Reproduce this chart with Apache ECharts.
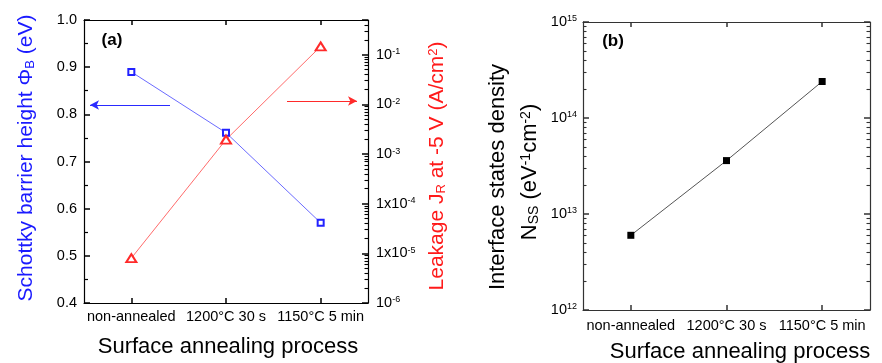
<!DOCTYPE html>
<html>
<head>
<meta charset="utf-8">
<script src="https://cdn.jsdelivr.net/npm/echarts@6/dist/echarts.min.js"></script>
<style>
    html, body { margin: 0; padding: 0; background: #fff; }
    #chart { width: 882px; height: 363px; }
</style>
</head>
<body>
<div id="chart"></div>
<script>
//横轴类别
var categories = ["non-annealed", "1200°C 30 s", "1150°C 5 min"];
//(a) 肖特基势垒高度 (eV)
var barrierHeight = [0.89, 0.761, 0.57];
//(a) 漏电流 (A/cm2)
var leakage = [8.0e-6, 1.95e-3, 0.147];
//(b) 界面态密度
var nss = [6.0e12, 3.6e13, 2.4e14];
//对数轴刻度标签：指数与前缀
var leakExp = [-6, -5, -4, -3, -2, -1];
var leakPrefix = ["", "1x", "1x", "", "", ""];
var nssExp = [12, 13, 14, 15];

var font = "Liberation Sans, Arial, sans-serif";

//对数轴次刻度 (2~9 x 10^n)
function minorValues(exps, max) {
    var out = [];
    for (var i = 0; i < exps.length; i++) {
        for (var m = 2; m <= 9; m++) {
            var v = m * Math.pow(10, exps[i]);
            if (v <= max * 1.0001) out.push(v);
        }
    }
    return out;
}

function logLabel(exps, prefixes) {
    return function(v) {
        var e = Math.log(v) / Math.LN10;
        var r = Math.round(e);
        if (Math.abs(e - r) > 0.01) return "";
        var i = exps.indexOf(r);
        if (i < 0) return "";
        var p = prefixes ? prefixes[i] : "";
        return p + "10{sup|" + r + "}";
    };
}

var supRich = {
    sup: { fontSize: 9, verticalAlign: "top", fontFamily: font, color: "#000", padding: [0, 0, 6, 0] }
};

var myChart = echarts.init(document.getElementById("chart"), null, { renderer: "canvas" });

function catAxis(grid, pos, showLabel, margin, c) {
    return {
        type: "category",
        gridIndex: grid,
        position: pos,
        data: categories,
        boundaryGap: true,
        axisLine: { show: true, lineStyle: { color: c, width: 1.2 } },
        axisTick: { show: true, inside: true, alignWithLabel: true, interval: 0, length: 5, lineStyle: { color: c, width: 1.5 } },
        axisLabel: { show: showLabel, interval: 0, hideOverlap: false, color: "#000", fontSize: 14.5, fontFamily: font, margin: margin },
        splitLine: { show: false }
    };
}

//只画次刻度的叠加对数轴
function minorLogAxis(grid, pos, min, max, exps, c) {
    return {
        type: "log",
        logBase: 10,
        gridIndex: grid,
        position: pos,
        min: min,
        max: max,
        axisLine: { show: false },
        axisTick: { show: true, inside: true, length: 3.5, customValues: minorValues(exps, max), lineStyle: { color: c, width: 1.1 } },
        axisLabel: { show: false },
        splitLine: { show: false }
    };
}

var option = {
    animation: false,
    backgroundColor: "#fff",
    grid: [
        { left: 84, top: 20, width: 284, height: 283 },
        { left: 583, top: 22, width: 287, height: 288 }
    ],
    xAxis: [
        catAxis(0, "bottom", true, 6, "#000"),
        catAxis(0, "top", false, 6, "#000"),
        catAxis(1, "bottom", true, 8, "#333"),
        catAxis(1, "top", false, 8, "#333")
    ],
    yAxis: [
        {
            type: "value",
            gridIndex: 0,
            position: "left",
            min: 0.4,
            max: 1.0,
            interval: 0.1,
            axisLine: { show: true, lineStyle: { color: "#000", width: 1.2 } },
            axisTick: { show: true, inside: true, length: 6, lineStyle: { color: "#000", width: 1.5 } },
            minorTick: { show: true, splitNumber: 2, length: 4, lineStyle: { color: "#000", width: 1.2 } },
            axisLabel: {
                color: "#000", fontSize: 14.5, fontFamily: font, margin: 7,
                formatter: function(v) { return v.toFixed(1); }
            },
            splitLine: { show: false }
        },
        {
            type: "log",
            logBase: 10,
            gridIndex: 0,
            position: "right",
            min: 1e-6,
            max: 0.5,
            axisLine: { show: true, lineStyle: { color: "#000", width: 1.2 } },
            axisTick: { show: true, inside: true, length: 6, lineStyle: { color: "#000", width: 1.5 } },
            axisLabel: {
                color: "#000", fontSize: 14.5, fontFamily: font, margin: 8,
                formatter: logLabel(leakExp, leakPrefix),
                rich: supRich
            },
            splitLine: { show: false }
        },
        {
            type: "log",
            logBase: 10,
            gridIndex: 1,
            position: "left",
            min: 1e12,
            max: 1e15,
            axisLine: { show: true, lineStyle: { color: "#333", width: 1.2 } },
            axisTick: { show: true, inside: true, length: 6, lineStyle: { color: "#333", width: 1.5 } },
            axisLabel: {
                color: "#000", fontSize: 14.5, fontFamily: font, margin: 6,
                formatter: logLabel(nssExp, null),
                rich: supRich
            },
            splitLine: { show: false }
        },
        {
            type: "log",
            logBase: 10,
            gridIndex: 1,
            position: "right",
            min: 1e12,
            max: 1e15,
            axisLine: { show: true, lineStyle: { color: "#333", width: 1.2 } },
            axisTick: { show: true, inside: true, length: 6, lineStyle: { color: "#333", width: 1.5 } },
            axisLabel: { show: false },
            splitLine: { show: false }
        },
        minorLogAxis(0, "right", 1e-6, 0.5, leakExp, "#000"),
        minorLogAxis(1, "left", 1e12, 1e15, nssExp, "#333"),
        minorLogAxis(1, "right", 1e12, 1e15, nssExp, "#333")
    ],
    series: [
        {
            name: "Barrier height",
            type: "line",
            xAxisIndex: 0,
            yAxisIndex: 0,
            data: barrierHeight,
            symbol: "emptyRect",
            symbolSize: 6,
            itemStyle: { color: "#2222ff", borderWidth: 1 },
            lineStyle: { color: "#6b6bff", width: 1 },
            markLine: {
                silent: true,
                symbol: ["none", "arrow"],
                symbolSize: [7, 9],
                label: { show: false },
                lineStyle: { color: "#2a2aff", width: 1, type: "solid" },
                data: [[{ x: 170, y: 105 }, { x: 90, y: 105 }]]
            }
        },
        {
            name: "Leakage",
            type: "line",
            xAxisIndex: 0,
            yAxisIndex: 1,
            data: leakage,
            symbol: "emptyTriangle",
            symbolSize: [10, 8],
            itemStyle: { color: "#ff2a2a", borderWidth: 1 },
            lineStyle: { color: "#ff6b6b", width: 1 },
            markLine: {
                silent: true,
                symbol: ["none", "arrow"],
                symbolSize: [7, 9],
                label: { show: false },
                lineStyle: { color: "#ff2a2a", width: 1, type: "solid" },
                data: [[{ x: 287, y: 101 }, { x: 357, y: 101 }]]
            }
        },
        {
            name: "Nss",
            type: "line",
            xAxisIndex: 2,
            yAxisIndex: 2,
            data: nss,
            symbol: "rect",
            symbolSize: 7,
            itemStyle: { color: "#000" },
            lineStyle: { color: "#555", width: 1 }
        }
    ],
    graphic: [
        { type: "text", x: 112, y: 40, style: { text: "(a)", font: "bold 17px " + font, fill: "#000", align: "center", verticalAlign: "middle" } },
        { type: "text", x: 613, y: 41, style: { text: "(b)", font: "bold 17px " + font, fill: "#000", align: "center", verticalAlign: "middle" } },
        { type: "text", x: 228, y: 347, style: { text: "Surface annealing process", fontSize: 22, fontFamily: font, fill: "#000", align: "center", verticalAlign: "middle" } },
        { type: "text", x: 740, y: 352, style: { text: "Surface annealing process", fontSize: 22, fontFamily: font, fill: "#000", align: "center", verticalAlign: "middle" } },
        {
            type: "text", x: 26, y: 158, rotation: Math.PI / 2,
            style: {
                text: "Schottky barrier height Φ{sub|B} (eV)",
                fontSize: 21, fontFamily: font, fill: "#1a1aff", align: "center", verticalAlign: "middle",
                rich: { sub: { fontSize: 13, fontFamily: font, fill: "#1a1aff", verticalAlign: "bottom", padding: [8, 0, 0, 0] } }
            }
        },
        {
            type: "text", x: 437, y: 166, rotation: Math.PI / 2,
            style: {
                text: "Leakage J{sub|R} at -5 V (A/cm{sup|2})",
                fontSize: 21, fontFamily: font, fill: "#ff1a1a", align: "center", verticalAlign: "middle",
                rich: {
                    sub: { fontSize: 13, fontFamily: font, fill: "#ff1a1a", verticalAlign: "bottom", padding: [8, 0, 0, 0] },
                    sup: { fontSize: 13, fontFamily: font, fill: "#ff1a1a", verticalAlign: "top", padding: [0, 0, 8, 0] }
                }
            }
        },
        {
            type: "text", x: 498, y: 177, rotation: Math.PI / 2,
            style: { text: "Interface states density", fontSize: 22, fontFamily: font, fill: "#000", align: "center", verticalAlign: "middle" }
        },
        {
            type: "text", x: 530, y: 172, rotation: Math.PI / 2,
            style: {
                text: "N{sub|SS} (eV{sup|-1}cm{sup|-2})",
                fontSize: 22, fontFamily: font, fill: "#000", align: "center", verticalAlign: "middle",
                rich: {
                    sub: { fontSize: 14, fontFamily: font, fill: "#000", verticalAlign: "bottom", padding: [8, 0, 0, 0] },
                    sup: { fontSize: 14, fontFamily: font, fill: "#000", verticalAlign: "top", padding: [0, 0, 8, 0] }
                }
            }
        }
    ]
};

myChart.setOption(option);

window.onresize = function() {
    myChart.resize();
};
</script>
</body>
</html>
